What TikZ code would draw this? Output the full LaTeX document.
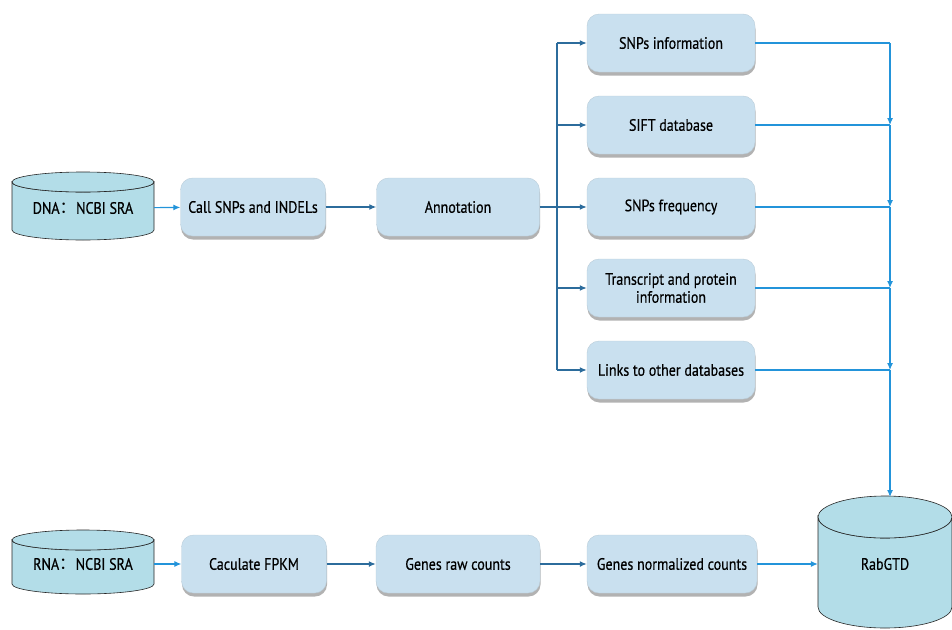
\documentclass[tikz,border=0pt]{standalone}
\usepackage{fontspec}
\setmainfont{PT Sans}[FakeStretch=0.85, FakeBold=0.5]
\newfontfamily\cjk{Noto Sans CJK SC}
\usetikzlibrary{arrows.meta,shadows}

\definecolor{boxblue}{HTML}{C9E0EF}
\definecolor{drumblue}{HTML}{B3DDE8}
\definecolor{darkline}{HTML}{2C6C9C}
\definecolor{brightline}{HTML}{2394DA}

\tikzset{
  stepbox/.style={rounded corners=12pt, fill=boxblue, draw=boxblue!80!gray,
    line width=0.4pt, drop shadow={shadow xshift=0.5pt, shadow yshift=-3.5pt, fill=black!60},
    minimum height=58pt, align=center, inner sep=2pt, font=\fontsize{16.5}{18}\selectfont},
  drumtext/.style={inner sep=0pt, font=\fontsize{16.5}{18}\selectfont},
  darrow/.style={draw=darkline, line width=1.3pt, -{Latex[length=7pt,width=6pt]}},
  barrow/.style={draw=brightline, line width=1.1pt, -{Latex[length=7pt,width=6pt]}},
  bline/.style={draw=brightline, line width=1.1pt},
  drum/.style={fill=drumblue, draw=black!85, line width=0.6pt},
}

% cylinder: centre x, centre y, half width, half height, top radius
\newcommand{\dbdrum}[5]{%
  \draw[drum] (#1-#3,#2-#4+#5) -- (#1-#3,#2+#4-#5)
    arc[start angle=180, end angle=0, x radius=#3, y radius=#5]
    -- (#1+#3,#2-#4+#5) arc[start angle=0, end angle=180, x radius=#3, y radius=#5] -- cycle;
  \draw[drum] (#1,#2-#4+#5) ellipse[x radius=#3, y radius=#5];
}

\begin{document}
\begin{tikzpicture}[x=1pt, y=-1pt]
    \useasboundingbox (0,0) rectangle (952,629);
    %\draw[help lines] (0,0) grid[step=50] (952,629);

    % databases
    \dbdrum{83}{206}{71}{34}{10}
    \dbdrum{83}{562}{71}{32}{10}
    \dbdrum{885}{562}{67}{66}{21}
    \node[drumtext, minimum width=142pt, minimum height=68pt] (dna) at (83,208) {DNA{\cjk ：}NCBI SRA};
    \node[drumtext, minimum width=142pt, minimum height=64pt] (rna) at (83,564) {RNA{\cjk ：}NCBI SRA};
    \node[drumtext, minimum width=134pt, minimum height=132pt] (rab) at (885,564) {RabGTD};

    % DNA pipeline
    \node[stepbox, minimum width=145pt] (call) at (253,207) {Call SNPs and INDELs};
    \node[stepbox, minimum width=163pt] (anno) at (458,207) {Annotation};

    \node[stepbox, minimum width=168pt] (info)  at (671,43)  {SNPs information};
    \node[stepbox, minimum width=168pt] (sift)  at (671,125) {SIFT database};
    \node[stepbox, minimum width=168pt] (freq)  at (671,207) {SNPs frequency};
    \node[stepbox, minimum width=168pt] (trans) at (671,288) {Transcript and protein\\information};
    \node[stepbox, minimum width=168pt] (links) at (671,370) {Links to other databases};

    % RNA pipeline
    \node[stepbox, minimum width=145pt] (fpkm) at (254,564) {Caculate FPKM};
    \node[stepbox, minimum width=164pt] (raw)  at (458,564) {Genes raw counts};
    \node[stepbox, minimum width=170pt] (norm) at (672,564) {Genes normalized counts};

    % fork and collector points
    \coordinate (fork) at (557,207);
    \coordinate (j1) at (890,43);
    \coordinate (j2) at (890,125);
    \coordinate (j3) at (890,207);
    \coordinate (j4) at (890,288);
    \coordinate (j5) at (890,370);
    \coordinate (top) at (890,497);

    \draw[barrow] (dna) -- (call);
    \draw[darrow] (call) -- (anno);
    \draw[draw=darkline, line width=1.3pt] (anno) -- (fork);
    \draw[draw=darkline, line width=1.3pt] (fork |- info) -- (fork |- links);
    \foreach \b in {info,sift,freq,trans,links}
        \draw[darrow] (fork |- \b) -- (\b);

    \draw[bline] (info) -- (j1);
    \draw[bline] (sift) -- (j2);
    \draw[bline] (freq) -- (j3);
    \draw[bline] (trans) -- (j4);
    \draw[bline] (links) -- (j5);
    \draw[barrow] (j1) -- (j2);
    \draw[barrow] (j2) -- (j3);
    \draw[barrow] (j3) -- (j4);
    \draw[barrow] (j4) -- (j5);
    \draw[barrow] (j5) -- (top);

    \draw[barrow] (rna) -- (fpkm);
    \draw[darrow] (fpkm) -- (raw);
    \draw[darrow] (raw) -- (norm);
    \draw[barrow] (norm) -- (rab);
\end{tikzpicture}
\end{document}
